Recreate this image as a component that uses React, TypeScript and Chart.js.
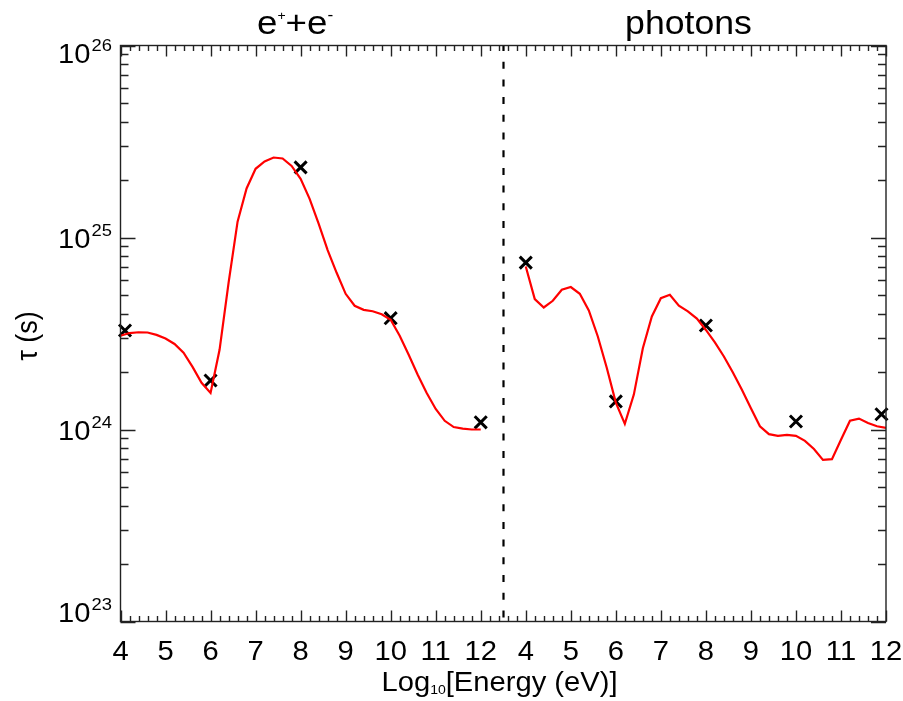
import React, { useEffect, useRef } from 'react';
import { Chart, registerables } from 'chart.js';

Chart.register(...registerables);

// Energy grid (log10 eV) shared by both model curves
const energyGrid = [
  4.0, 4.2, 4.4, 4.6, 4.8, 5.0, 5.2, 5.4, 5.6, 5.8,
  6.0, 6.2, 6.4, 6.6, 6.8, 7.0, 7.2, 7.4, 7.6, 7.8,
  8.0, 8.2, 8.4, 8.6, 8.8, 9.0, 9.2, 9.4, 9.6, 9.8,
  10.0, 10.2, 10.4, 10.6, 10.8, 11.0, 11.2, 11.4, 11.6, 11.8, 12.0,
];

// Model timescale tau (s) for e+e- pairs
const pairTau = [
  3.08e24, 3.18e24, 3.21e24, 3.2e24, 3.11e24, 2.98e24, 2.79e24, 2.51e24, 2.12e24, 1.75e24,
  1.55e24, 2.6e24, 5.8e24, 1.21e25, 1.8e25, 2.28e25, 2.49e25, 2.61e25, 2.58e25, 2.36e25,
  2.02e25, 1.59e25, 1.18e25, 8.6e24, 6.55e24, 5.09e24, 4.41e24, 4.2e24, 4.13e24, 3.98e24,
  3.73e24, 3.08e24, 2.45e24, 1.93e24, 1.55e24, 1.28e24, 1.11e24, 1.03e24, 1.01e24, 1.0e24, 1.0e24,
];

// Model timescale tau (s) for photons
const photonTau = [
  7.06e24, 4.78e24, 4.32e24, 4.68e24, 5.34e24, 5.52e24, 5.09e24, 4.17e24, 3.05e24, 2.09e24,
  1.38e24, 1.07e24, 1.52e24, 2.65e24, 3.88e24, 4.83e24, 5.03e24, 4.41e24, 4.12e24, 3.78e24,
  3.3e24, 2.84e24, 2.4e24, 1.98e24, 1.61e24, 1.29e24, 1.04e24, 9.46e23, 9.27e23, 9.38e23,
  9.27e23, 8.73e23, 7.91e23, 6.95e23, 7.01e23, 8.84e23, 1.11e24, 1.14e24, 1.08e24, 1.04e24, 1.02e24,
];

// Individual estimates shown as crosses
const pairMarkEnergy = [4.1, 6, 8, 10, 12];
const pairMarkTau = [3.28e24, 1.8e24, 2.32e25, 3.8e24, 1.09e24];
const photonMarkEnergy = [4, 6, 8, 10, 11.9];
const photonMarkTau = [7.4e24, 1.4e24, 3.48e24, 1.1e24, 1.2e24];

// Axis labelling
const energyTickValues = [4, 5, 6, 7, 8, 9, 10, 11, 12];
const energyTickLabels = ['4', '5', '6', '7', '8', '9', '10', '11', '12'];
const tauDecadeExponents = [23, 24, 25, 26];

const FONT = '"Liberation Sans", Arial, Helvetica, sans-serif';
const SX = 1.08; // glyphs are set slightly wide

function wideText(
  ctx: CanvasRenderingContext2D,
  text: string,
  x: number,
  y: number,
  px: number,
  align: 'left' | 'right' | 'center' = 'left'
): number {
  ctx.save();
  ctx.font = `${px}px ${FONT}`;
  const w = ctx.measureText(text).width * SX;
  let x0 = x;
  if (align === 'right') x0 = x - w;
  else if (align === 'center') x0 = x - w / 2;
  ctx.translate(x0, y);
  ctx.scale(SX, 1);
  ctx.textAlign = 'left';
  ctx.textBaseline = 'alphabetic';
  ctx.fillStyle = '#000';
  ctx.fillText(text, 0, 0);
  ctx.restore();
  return w;
}

const dividerPlugin = {
  id: 'divider',
  beforeDatasetsDraw(chart: any) {
    const { ctx, chartArea: a, scales } = chart;
    const xd = Math.round(scales.x.getPixelForValue(12.5)) + 0.5;
    ctx.save();
    ctx.strokeStyle = '#000';
    ctx.lineWidth = 2.2;
    ctx.setLineDash([7, 10.7]);
    ctx.lineDashOffset = 1.5;
    ctx.beginPath();
    ctx.moveTo(xd, a.top);
    ctx.lineTo(xd, a.bottom);
    ctx.stroke();
    ctx.restore();
  },
};

const framePlugin = {
  id: 'frame',
  afterDatasetsDraw(chart: any) {
    const { ctx, chartArea: a, scales } = chart;
    const xs = scales.x;
    const xs2 = scales.x2;
    const ys = scales.y;
    ctx.save();
    ctx.strokeStyle = '#222';
    ctx.lineWidth = 1.4;
    ctx.setLineDash([]);
    ctx.strokeRect(a.left, a.top, a.right - a.left, a.bottom - a.top);

    // energy ticks every 0.2 across the combined axis, top and bottom
    ctx.beginPath();
    for (let i = 0; i <= 85; i++) {
      const v = 4 + i * 0.2;
      const px = Math.round(xs.getPixelForValue(v)) + 0.5;
      const len = i % 5 === 0 ? 11 : 5.5;
      ctx.moveTo(px, a.bottom);
      ctx.lineTo(px, a.bottom - len);
      ctx.moveTo(px, a.top);
      ctx.lineTo(px, a.top + len);
    }
    // tau ticks: decades and their 2..9 subdivisions, left and right
    for (const d of tauDecadeExponents) {
      for (let m = 1; m <= 9; m++) {
        const v = m * Math.pow(10, d);
        if (v > ys.max * 1.0001) continue;
        const py = Math.round(ys.getPixelForValue(v)) + 0.5;
        const len = m === 1 ? 15 : 8;
        ctx.moveTo(a.left, py);
        ctx.lineTo(a.left + len, py);
        ctx.moveTo(a.right, py);
        ctx.lineTo(a.right - len, py);
      }
    }
    ctx.stroke();
    ctx.restore();

    // energy tick labels for both panels
    energyTickValues.forEach((v, i) => {
      wideText(ctx, energyTickLabels[i], xs.getPixelForValue(v), a.bottom + 38, 27, 'center');
      wideText(ctx, energyTickLabels[i], xs2.getPixelForValue(v), a.bottom + 38, 27, 'center');
    });

    // tau decade labels 10^n
    tauDecadeExponents.forEach((d) => {
      const py = ys.getPixelForValue(Math.pow(10, d));
      let shift = 10;
      if (d === 26) shift = 17.5;
      if (d === 23) shift = 0.5;
      const base = py + shift;
      const right = a.left - 30;
      wideText(ctx, '10', right, base, 27, 'right');
      wideText(ctx, String(d), right + 1, base - 12, 17, 'left');
    });

    // panel titles
    let tx = 257;
    tx += wideText(ctx, 'e', tx, 33.5, 34);
    tx += wideText(ctx, '+', tx, 20, 13);
    tx += wideText(ctx, '+', tx, 33.5, 34);
    tx += wideText(ctx, 'e', tx, 33.5, 34);
    wideText(ctx, '-', tx, 20, 16);
    wideText(ctx, 'photons', 688.5, 34, 33, 'center');

    // energy axis title
    let ex = 381.5;
    ex += wideText(ctx, 'Log', ex, 691, 27);
    ex += wideText(ctx, '10', ex, 693.5, 13);
    wideText(ctx, '[Energy (eV)]', ex, 691, 27);

    // tau axis title, rotated
    ctx.save();
    ctx.translate(37, 336);
    ctx.rotate(-Math.PI / 2);
    ctx.font = `27px ${FONT}`;
    ctx.textAlign = 'center';
    ctx.textBaseline = 'alphabetic';
    ctx.fillStyle = '#000';
    ctx.scale(1, SX);
    ctx.fillText('\u03c4 (s)', 0, 0);
    ctx.restore();
  },
};

export default function App() {
  const canvasRef = useRef<HTMLCanvasElement | null>(null);

  useEffect(() => {
    document.body.style.margin = '0';
    const canvas = canvasRef.current;
    if (!canvas) return;
    const markerStyle = {
      showLine: false,
      pointStyle: 'crossRot' as const,
      pointRadius: 8.5,
      pointBorderWidth: 3,
      pointBorderColor: '#000',
      pointBackgroundColor: '#000',
      borderColor: '#000',
      clip: false as const,
    };
    const lineStyle = {
      borderColor: '#ff0000',
      borderWidth: 2.2,
      pointRadius: 0,
      tension: 0,
      fill: false,
    };
    const chart = new Chart(canvas, {
      type: 'line',
      data: {
        datasets: [
          {
            label: 'e+e- model',
            data: energyGrid.map((e, i) => ({ x: e, y: pairTau[i] })),
            xAxisID: 'x',
            yAxisID: 'y',
            ...lineStyle,
          },
          {
            label: 'photon model',
            data: energyGrid.map((e, i) => ({ x: e, y: photonTau[i] })),
            xAxisID: 'x2',
            yAxisID: 'y',
            ...lineStyle,
          },
          {
            label: 'e+e- estimates',
            data: pairMarkEnergy.map((e, i) => ({ x: e, y: pairMarkTau[i] })),
            xAxisID: 'x',
            yAxisID: 'y',
            ...markerStyle,
          },
          {
            label: 'photon estimates',
            data: photonMarkEnergy.map((e, i) => ({ x: e, y: photonMarkTau[i] })),
            xAxisID: 'x2',
            yAxisID: 'y',
            ...markerStyle,
          },
        ],
      },
      options: {
        animation: false,
        responsive: false,
        maintainAspectRatio: false,
        devicePixelRatio: 1,
        layout: { padding: { left: 120.5, right: 17, top: 45.5, bottom: 79.5 } },
        plugins: {
          legend: { display: false },
          tooltip: { enabled: false },
        },
        scales: {
          // left panel occupies 4..12, right panel shares the same span shifted by 9
          x: { type: 'linear', min: 4, max: 21, display: false },
          x2: { type: 'linear', min: -5, max: 12, display: false },
          y: { type: 'logarithmic', min: 1e23, max: 1e26, display: false },
        },
      },
      plugins: [dividerPlugin, framePlugin],
    });
    return () => chart.destroy();
  }, []);

  return (
    <div style={{ width: 903, height: 701, background: '#fff' }}>
      <canvas ref={canvasRef} width={903} height={701} style={{ display: 'block' }} />
    </div>
  );
}
